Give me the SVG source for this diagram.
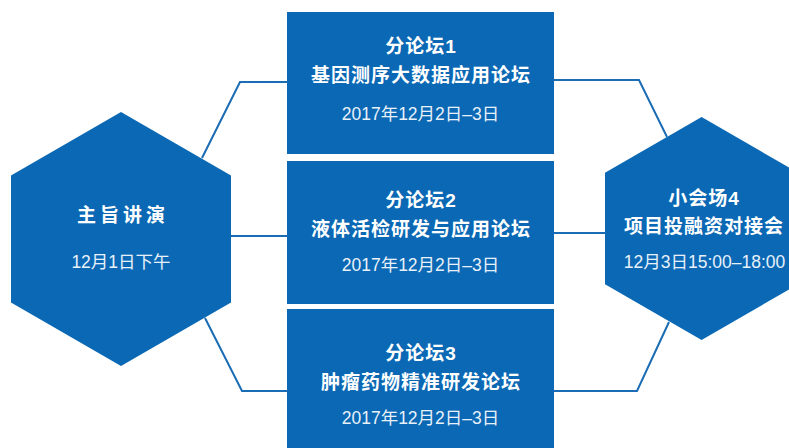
<svg xmlns="http://www.w3.org/2000/svg" width="789" height="448" viewBox="0 0 789 448">
<style>
.shape{fill:#0a68b4}
.conn{fill:none;stroke:#1a6cb4;stroke-width:2}
text{font-family:"Liberation Sans","Noto Sans CJK SC",sans-serif;text-anchor:middle;fill:#ffffff}
.t{font-size:19px;font-weight:bold;letter-spacing:1px}
.th{font-size:19px;font-weight:bold;letter-spacing:4px}
.d{font-size:17.5px;fill:#e8f1fa}
</style>
<rect width="789" height="448" fill="#ffffff"/>
<g id="connectors">
<polyline class="conn" points="202,158 240,82 288,82"/>
<polyline class="conn" points="231,236 288,236"/>
<polyline class="conn" points="205,318 242,391 288,391"/>
<polyline class="conn" points="554,80 639,80 667,137"/>
<polyline class="conn" points="554,233 606,233"/>
<polyline class="conn" points="553,391 637,391 669,322"/>
</g>
<g id="keynote">
<polygon class="shape" points="121,112 231,175.5 231,302.5 121,366 11,302.5 11,175.5"/>
<text class="th" x="123" y="222">主旨讲演</text>
<text class="d" x="121" y="268">12月1日下午</text>
</g>
<g id="forum1">
<rect class="shape" x="287" y="12" width="267" height="142"/>
<text class="t" x="421" y="53">分论坛1</text>
<text class="t" x="421" y="82">基因测序大数据应用论坛</text>
<text class="d" x="420.5" y="120">2017年12月2日–3日</text>
</g>
<g id="forum2">
<rect class="shape" x="287" y="161" width="267" height="143"/>
<text class="t" x="421" y="207">分论坛2</text>
<text class="t" x="421" y="236">液体活检研发与应用论坛</text>
<text class="d" x="420.5" y="271">2017年12月2日–3日</text>
</g>
<g id="forum3">
<rect class="shape" x="287" y="309" width="267" height="150"/>
<text class="t" x="421" y="360">分论坛3</text>
<text class="t" x="421" y="389">肿瘤药物精准研发论坛</text>
<text class="d" x="420.5" y="424">2017年12月2日–3日</text>
</g>
<g id="venue4">
<polygon class="shape" points="701.6,117 798,172.75 798,284.25 701.6,340 605,284.25 605,172.75"/>
<text class="t" x="704" y="205">小会场4</text>
<text class="t" x="704" y="233">项目投融资对接会</text>
<text class="d" x="704.5" y="268">12月3日15:00–18:00</text>
</g>
</svg>
